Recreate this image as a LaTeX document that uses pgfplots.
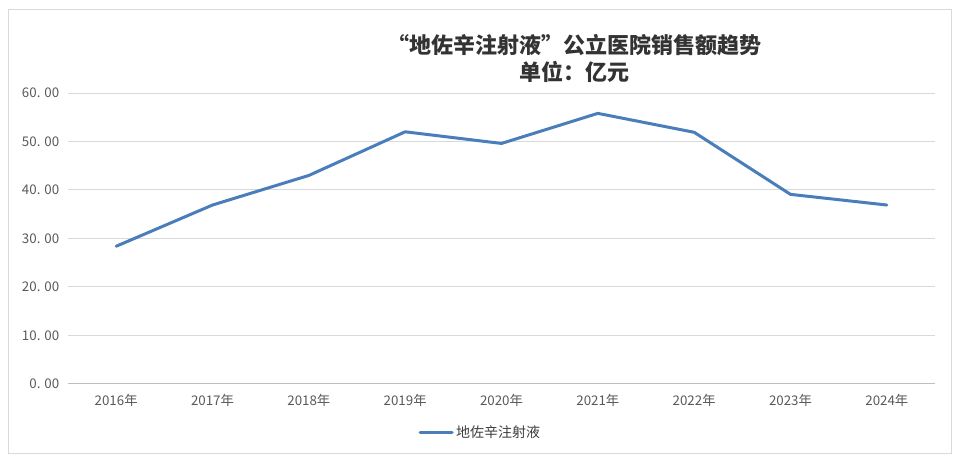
\documentclass[border=0pt]{standalone}
\usepackage{pgfplots}
\pgfplotsset{compat=1.18}
\usepackage{fontspec}
\setmainfont{Noto Sans CJK SC}
\definecolor{series}{RGB}{74,126,187}
\definecolor{gridc}{RGB}{217,217,217}
\definecolor{axisc}{RGB}{191,191,191}
\definecolor{tickc}{RGB}{89,89,89}
\definecolor{framec}{RGB}{217,217,217}
\begin{document}
\begin{tikzpicture}
\useasboundingbox (0,0) rectangle (720pt,347.25pt);
\draw[framec, line width=0.75pt] (6pt,6.75pt) rectangle (713.25pt,339.75pt);
\node[font=\fontsize{16.5}{20}\selectfont\bfseries, text=black!80, align=center, anchor=center]
  at (430.5pt,313.5pt) {“地佐辛注射液”公立医院销售额趋势};
\node[font=\fontsize{16.5}{20}\selectfont\bfseries, text=black!80, anchor=center]
  at (430.5pt,293.25pt) {单位：亿元};
\begin{axis}[
  at={(51pt,59.25pt)}, anchor=south west,
  scale only axis, width=650.25pt, height=218.25pt,
  xmin=-0.5, xmax=8.5, ymin=0, ymax=60,
  xtick={0,...,8},
  xticklabels={2016年,2017年,2018年,2019年,2020年,2021年,2022年,2023年,2024年},
  ytick={0,10,20,30,40,50,60},
  yticklabels={0. 00,10. 00,20. 00,30. 00,40. 00,50. 00,60. 00},
  ymajorgrids, grid style={gridc, line width=0.75pt},
  axis line style={draw=none},
  axis x line*=bottom, axis y line*=left,
  major tick length=0pt,
  tick label style={font=\fontsize{10}{12}\selectfont, text=tickc},
  xticklabel style={yshift=-4pt},
  yticklabel style={xshift=-3pt},
  clip=false,
  legend style={at={(0.476,-0.168)}, anchor=center, draw=none, fill=none,
    font=\fontsize{10.5}{12}\selectfont, text=tickc!70!black, legend columns=1},
  legend image code/.code={\draw[#1, line width=2.25pt] (0pt,0pt) -- (24pt,0pt);},
]
\draw[axisc, line width=0.75pt] (axis cs:-0.5,0) -- (axis cs:8.5,0);
\addplot[series, line width=2.25pt, line join=round, line cap=round] coordinates {
 (0,28.4) (1,36.9) (2,43.0) (3,52.0) (4,49.6) (5,55.8) (6,51.9) (7,39.1) (8,36.9)
};
\addlegendentry{地佐辛注射液}
\end{axis}
\end{tikzpicture}
\end{document}
